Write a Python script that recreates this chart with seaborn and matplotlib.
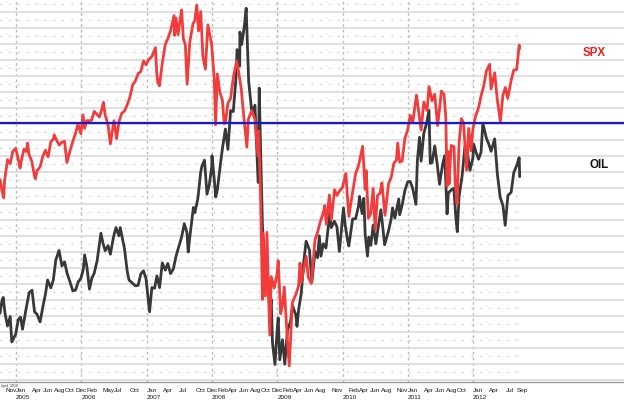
import pandas as pd
import numpy as np
import matplotlib
matplotlib.use('Agg')
import matplotlib.pyplot as plt
import seaborn as sns

# S&P 500 (red line)
spx_dates = ['2004-10-04', '2004-10-15', '2004-10-25', '2004-10-29', '2004-11-15', '2004-11-30',
             '2004-12-15', '2004-12-31', '2005-01-14', '2005-01-24', '2005-01-31', '2005-02-15',
             '2005-02-28', '2005-03-07', '2005-03-15', '2005-03-31', '2005-04-15', '2005-04-20',
             '2005-04-29', '2005-05-16', '2005-05-31', '2005-06-15', '2005-06-30', '2005-07-15',
             '2005-07-29', '2005-08-03', '2005-08-15', '2005-08-31', '2005-09-15', '2005-09-30',
             '2005-10-13', '2005-10-31', '2005-11-15', '2005-11-30', '2005-12-14', '2005-12-30',
             '2006-01-11', '2006-01-20', '2006-01-31', '2006-02-15', '2006-02-28', '2006-03-15',
             '2006-03-31', '2006-04-13', '2006-04-28', '2006-05-05', '2006-05-15', '2006-05-31',
             '2006-06-13', '2006-06-30', '2006-07-03', '2006-07-18', '2006-07-31', '2006-08-15',
             '2006-08-31', '2006-09-15', '2006-09-29', '2006-10-16', '2006-10-31', '2006-11-15',
             '2006-11-30', '2006-12-15', '2006-12-29', '2007-01-12', '2007-01-31', '2007-02-20',
             '2007-02-27', '2007-03-05', '2007-03-14', '2007-03-30', '2007-04-16', '2007-04-30',
             '2007-05-15', '2007-05-31', '2007-06-04', '2007-06-07', '2007-06-15', '2007-06-26',
             '2007-07-16', '2007-07-26', '2007-08-06', '2007-08-16', '2007-08-31', '2007-09-18',
             '2007-09-28', '2007-10-09', '2007-10-19', '2007-10-31', '2007-11-12', '2007-11-26',
             '2007-12-10', '2007-12-31', '2008-01-15', '2008-01-22', '2008-02-01', '2008-02-15',
             '2008-02-29', '2008-03-10', '2008-03-17', '2008-03-31', '2008-04-15', '2008-04-30',
             '2008-05-19', '2008-05-30', '2008-06-13', '2008-06-30', '2008-07-15', '2008-07-23',
             '2008-08-11', '2008-08-29', '2008-09-15', '2008-09-19', '2008-09-29', '2008-10-10',
             '2008-10-13', '2008-10-27', '2008-11-04', '2008-11-20', '2008-11-28', '2008-12-15',
             '2008-12-31', '2009-01-06', '2009-01-20', '2009-01-30', '2009-02-09', '2009-02-27',
             '2009-03-09', '2009-03-26', '2009-04-15', '2009-04-30', '2009-05-08', '2009-05-15',
             '2009-06-12', '2009-06-23', '2009-07-10', '2009-07-31', '2009-08-14', '2009-08-28',
             '2009-09-15', '2009-09-23', '2009-10-02', '2009-10-19', '2009-10-30', '2009-11-17',
             '2009-11-30', '2009-12-15', '2009-12-31', '2010-01-19', '2010-02-05', '2010-02-26',
             '2010-03-15', '2010-03-31', '2010-04-23', '2010-05-07', '2010-05-13', '2010-05-25',
             '2010-06-07', '2010-06-21', '2010-07-02', '2010-07-15', '2010-07-30', '2010-08-09',
             '2010-08-26', '2010-09-15', '2010-09-30', '2010-10-15', '2010-10-29', '2010-11-05',
             '2010-11-16', '2010-11-30', '2010-12-15', '2010-12-31', '2011-01-14', '2011-01-28',
             '2011-02-18', '2011-03-01', '2011-03-16', '2011-03-31', '2011-04-18', '2011-04-29',
             '2011-05-16', '2011-05-31', '2011-06-16', '2011-06-30', '2011-07-07', '2011-07-22',
             '2011-08-01', '2011-08-08', '2011-08-15', '2011-08-19', '2011-08-31', '2011-09-16',
             '2011-09-22', '2011-10-03', '2011-10-14', '2011-10-27', '2011-11-08', '2011-11-25',
             '2011-12-07', '2011-12-19', '2011-12-30', '2012-01-13', '2012-01-31', '2012-02-15',
             '2012-02-29', '2012-03-15', '2012-04-02', '2012-04-10', '2012-04-30', '2012-05-15',
             '2012-06-01', '2012-06-15', '2012-06-29', '2012-07-12', '2012-07-31', '2012-08-15',
             '2012-08-31', '2012-09-14', '2012-09-17']
spx_vals = [1135, 1108, 1090, 1130, 1184, 1174,
            1205, 1212, 1185, 1163, 1181, 1210,
            1204, 1225, 1197, 1180, 1143, 1137,
            1157, 1166, 1192, 1207, 1191, 1228,
            1234, 1245, 1233, 1220, 1227, 1229,
            1177, 1207, 1229, 1249, 1272, 1248,
            1294, 1261, 1280, 1280, 1281, 1303,
            1295, 1289, 1311, 1325, 1294, 1270,
            1223, 1270, 1280, 1236, 1277, 1298,
            1304, 1319, 1336, 1369, 1378, 1396,
            1401, 1427, 1418, 1430, 1438, 1460,
            1399, 1374, 1366, 1421, 1468, 1482,
            1501, 1531, 1539, 1490, 1533, 1492,
            1553, 1482, 1467, 1370, 1474, 1519,
            1527, 1565, 1501, 1549, 1439, 1407,
            1516, 1468, 1380, 1270, 1395, 1350,
            1331, 1273, 1276, 1323, 1335, 1386,
            1427, 1400, 1360, 1280, 1215, 1283,
            1305, 1283, 1193, 1255, 1106, 840,
            1003, 848, 1005, 752, 896, 868,
            903, 935, 805, 826, 870, 735,
            676, 832, 852, 873, 929, 882,
            946, 895, 879, 987, 1005, 1029,
            1053, 1071, 1025, 1097, 1036, 1110,
            1096, 1107, 1115, 1150, 1044, 1104,
            1150, 1169, 1217, 1111, 1157, 1040,
            1050, 1113, 1011, 1096, 1102, 1127,
            1047, 1125, 1141, 1176, 1183, 1225,
            1178, 1181, 1236, 1258, 1293, 1276,
            1343, 1306, 1257, 1326, 1305, 1364,
            1329, 1345, 1268, 1321, 1353, 1345,
            1287, 1119, 1204, 1124, 1219, 1216,
            1130, 1075, 1225, 1285, 1275, 1158,
            1261, 1206, 1258, 1289, 1312, 1343,
            1366, 1403, 1419, 1358, 1398, 1331,
            1278, 1343, 1362, 1335, 1379, 1405,
            1406, 1466, 1458]

# crude oil (black line)
oil_dates = ['2004-10-04', '2004-10-15', '2004-10-22', '2004-11-01', '2004-11-15', '2004-11-30',
             '2004-12-09', '2004-12-31', '2005-01-14', '2005-01-27', '2005-02-07', '2005-02-28',
             '2005-03-16', '2005-04-01', '2005-04-15', '2005-04-29', '2005-05-16', '2005-05-31',
             '2005-06-15', '2005-06-27', '2005-07-15', '2005-07-29', '2005-08-12', '2005-08-30',
             '2005-09-15', '2005-09-30', '2005-10-14', '2005-10-31', '2005-11-15', '2005-11-30',
             '2005-12-15', '2005-12-30', '2006-01-13', '2006-01-20', '2006-02-01', '2006-02-16',
             '2006-03-01', '2006-03-15', '2006-03-31', '2006-04-21', '2006-05-03', '2006-05-15',
             '2006-05-31', '2006-06-13', '2006-06-30', '2006-07-14', '2006-07-31', '2006-08-07',
             '2006-08-31', '2006-09-15', '2006-09-25', '2006-10-16', '2006-10-31', '2006-11-15',
             '2006-11-30', '2006-12-15', '2006-12-29', '2007-01-18', '2007-01-31', '2007-02-15',
             '2007-02-28', '2007-03-15', '2007-03-30', '2007-04-16', '2007-04-30', '2007-05-15',
             '2007-05-31', '2007-06-15', '2007-06-29', '2007-07-16', '2007-07-31', '2007-08-15',
             '2007-08-22', '2007-08-31', '2007-09-20', '2007-09-28', '2007-10-15', '2007-10-31',
             '2007-11-07', '2007-11-21', '2007-12-05', '2007-12-18', '2007-12-31', '2008-01-02',
             '2008-01-15', '2008-01-23', '2008-02-01', '2008-02-15', '2008-02-29', '2008-03-17',
             '2008-03-31', '2008-04-15', '2008-04-30', '2008-05-15', '2008-05-21', '2008-06-05',
             '2008-06-06', '2008-06-16', '2008-06-30', '2008-07-11', '2008-07-25', '2008-08-12',
             '2008-08-29', '2008-09-16', '2008-09-22', '2008-09-30', '2008-10-10', '2008-10-24',
             '2008-10-31', '2008-11-14', '2008-11-20', '2008-11-28', '2008-12-05', '2008-12-19',
             '2008-12-31', '2009-01-06', '2009-01-15', '2009-01-30', '2009-02-12', '2009-02-27',
             '2009-03-16', '2009-03-27', '2009-04-15', '2009-04-21', '2009-04-30', '2009-05-15',
             '2009-05-29', '2009-06-11', '2009-06-30', '2009-07-13', '2009-07-31', '2009-08-14',
             '2009-08-24', '2009-09-02', '2009-09-15', '2009-09-30', '2009-10-21', '2009-10-30',
             '2009-11-16', '2009-11-30', '2009-12-14', '2009-12-31', '2010-01-06', '2010-01-15',
             '2010-01-29', '2010-02-05', '2010-02-26', '2010-03-15', '2010-03-31', '2010-04-06',
             '2010-04-20', '2010-04-30', '2010-05-07', '2010-05-20', '2010-05-28', '2010-06-08',
             '2010-06-21', '2010-07-06', '2010-07-20', '2010-08-03', '2010-08-24', '2010-09-15',
             '2010-09-30', '2010-10-07', '2010-10-20', '2010-11-11', '2010-11-16', '2010-11-30',
             '2010-12-15', '2010-12-31', '2011-01-14', '2011-01-28', '2011-02-15', '2011-02-23',
             '2011-03-07', '2011-03-16', '2011-03-31', '2011-04-15', '2011-04-29', '2011-05-06',
             '2011-05-16', '2011-05-31', '2011-06-13', '2011-06-27', '2011-07-15', '2011-07-26',
             '2011-08-08', '2011-08-15', '2011-08-31', '2011-09-15', '2011-09-26', '2011-10-04',
             '2011-10-14', '2011-10-31', '2011-11-16', '2011-11-30', '2011-12-14', '2011-12-30',
             '2012-01-04', '2012-01-17', '2012-01-31', '2012-02-14', '2012-02-24', '2012-03-15',
             '2012-03-30', '2012-04-10', '2012-04-30', '2012-05-15', '2012-05-31', '2012-06-15',
             '2012-06-28', '2012-07-13', '2012-07-31', '2012-08-15', '2012-08-31', '2012-09-14',
             '2012-09-17']
oil_vals = [50, 54, 55, 50, 46, 49,
            41, 43.5, 48, 48.8, 45, 51.8,
            56.5, 57.3, 50.5, 49.7, 47.3, 51.9,
            56, 60.5, 58, 60.5, 66.8, 69.8,
            64.9, 66.2, 62.6, 59.8, 57.1, 57.3,
            59.9, 61, 63.9, 68.4, 65, 57.6,
            61, 62.7, 66.6, 75.2, 72, 69.7,
            71.3, 68.6, 73.9, 77, 74.4, 77,
            70.3, 63.3, 60.5, 59.4, 58.7, 58.8,
            62.4, 63.4, 61, 50.5, 58.1, 57.9,
            61.8, 58.1, 65.9, 63.6, 65.7, 62.5,
            64, 68, 70.7, 74, 78.2, 75.4,
            69.3, 74, 83.3, 81.7, 86.1, 94.5,
            96.4, 98.2, 87.5, 90.5, 95.9, 99.6,
            91.9, 86.6, 88.9, 95.5, 101.8, 108,
            101.6, 113.8, 113.5, 124, 133, 127.8,
            138.5, 134.6, 140, 146, 123, 113,
            115.5, 91.2, 120.9, 100.6, 77.7, 64.2,
            67.8, 57, 49.6, 54.4, 40.8, 33.9,
            44.6, 48.6, 35.4, 41.7, 34, 44.8,
            47.4, 52.4, 49.4, 45.9, 51.1, 56.3,
            66.3, 72.7, 69.9, 59.9, 69.5, 67.5,
            74.4, 68, 71.9, 70.6, 81.4, 77,
            79, 77.3, 69.5, 79.4, 83.2, 78,
            72.9, 71.2, 79.7, 79.8, 83.8, 86.8,
            81.4, 86.2, 75.1, 68, 74, 71.4,
            77.8, 71.9, 77.5, 82.6, 71.6, 76,
            79.9, 83.2, 80, 86, 81, 84.1,
            88.6, 91.4, 91.5, 89.3, 84.3, 98.1,
            105.4, 97.9, 106.7, 109.7, 113.9, 97.2,
            97.4, 102.7, 97.3, 90.6, 97.2, 99.6,
            81.3, 87.9, 88.8, 89.4, 80.2, 75.7,
            86.8, 93.2, 102.6, 100.4, 95, 98.8,
            103.2, 100.7, 98.5, 100.7, 109.8, 105.1,
            103, 101, 104.9, 93.9, 86.5, 84,
            77.7, 87.1, 88.1, 94.3, 96.5, 99,
            93]

# x-axis labels
month_ticks = ['2004-11', '2005-01', '2005-04', '2005-06', '2005-08', '2005-10', '2005-12',
               '2006-02', '2006-05', '2006-07', '2006-10', '2007-01', '2007-04', '2007-07',
               '2007-10', '2007-12', '2008-02', '2008-04', '2008-06', '2008-08', '2008-10',
               '2008-12', '2009-02', '2009-04', '2009-06', '2009-08', '2009-11', '2010-02',
               '2010-04', '2010-06', '2010-08', '2010-11', '2011-01', '2011-04', '2011-06',
               '2011-08', '2011-10', '2012-01', '2012-04', '2012-07', '2012-09']
year_ticks = ['2005', '2006', '2007', '2008', '2009', '2010', '2011', '2012']

blue_level = 1275  # on the SPX scale

sns.set_style('white')
plt.rcParams['font.family'] = ['Liberation Sans', 'DejaVu Sans']

fig = plt.figure(figsize=(6.24, 4.04), dpi=100)
ax = fig.add_axes([0, 22 / 404, 1, 382 / 404])
ax_oil = ax.twinx()
ax_spx = ax.twinx()

sns.lineplot(x=pd.to_datetime(oil_dates), y=oil_vals, ax=ax_oil, color='#383838', linewidth=2.0)
sns.lineplot(x=pd.to_datetime(spx_dates), y=spx_vals, ax=ax_spx, color='#f23c3c', linewidth=2.0)
ax_spx.axhline(blue_level, color='#1a1acc', linewidth=1.6)

x0, x1 = pd.Timestamp('2004-10-04'), pd.Timestamp('2014-04-23')
ax.set_xlim(x0, x1)
ax_spx.set_ylim(636.4, 1577.3)
ax_oil.set_ylim(28.4, 148.6)

# background grid (rows in pixel units of the plot area)
ax.set_ylim(382, 0)
ax.set_yticks(np.arange(12, 382, 16))
ax.grid(axis='y', which='major', color='#dadada', linewidth=1.2, linestyle='-')
ax.hlines(np.arange(4, 382, 16), x0, pd.Timestamp('2012-09-20'),
          colors='#b2b2b2', linestyles=(0, (1, 7)), linewidth=0.8)

years = pd.to_datetime([y + '-01-01' for y in year_ticks])
months = pd.to_datetime([m + '-01' for m in month_ticks])
ax.set_xticks(years)
ax.set_xticklabels(year_ticks)
ax.set_xticks(months, minor=True)
ax.set_xticklabels(months.strftime('%b'), minor=True)
ax.xaxis.remove_overlapping_locs = False
ax.grid(axis='x', which='major', color='#bcbcbc', linestyle=(0, (2, 2)), linewidth=1)
ax.tick_params(axis='x', which='major', length=0, pad=9.5, labelsize=4.6, colors='#1a1a1a')
ax.tick_params(axis='x', which='minor', length=0, pad=4, labelsize=4.6, colors='#1a1a1a')
ax.tick_params(axis='y', length=0, labelleft=False)
for lab in ax.get_xticklabels(which='both'):
    lab.set_ha('left')

for a in (ax_oil, ax_spx):
    a.set_xlabel('')
    a.set_ylabel('')
    a.set_yticks([])
    for s in a.spines.values():
        s.set_visible(False)
for side in ('left', 'right', 'top'):
    ax.spines[side].set_visible(False)
ax.spines['bottom'].set_color('#9a9a9a')
ax.spines['bottom'].set_linewidth(1)

fig.text(583 / 624, 1 - 56 / 404, 'SPX', color='#ee1c1c', fontsize=8.3, fontweight='bold', va='baseline')
fig.text(589 / 624, 1 - 168 / 404, 'OIL', color='#111111', fontsize=8.3, fontweight='bold', va='baseline')
fig.text(0.001, 1 - 387 / 404, 'ligsd, 2010', color='#333333', fontsize=2.5)

fig.savefig('out.png', dpi=100)
